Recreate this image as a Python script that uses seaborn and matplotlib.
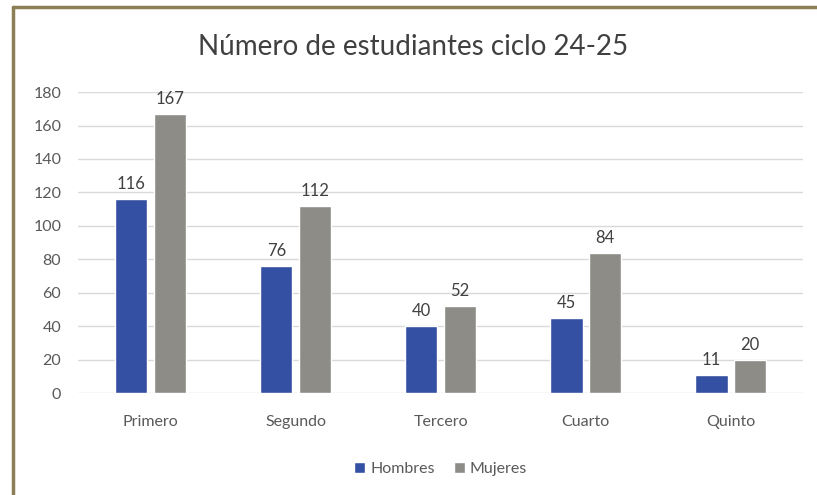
import pandas as pd
import matplotlib.pyplot as plt
import seaborn as sns
from matplotlib.lines import Line2D

# Data
ciclos = ['Primero', 'Segundo', 'Tercero', 'Cuarto', 'Quinto']
hombres = [116, 76, 40, 45, 11]
mujeres = [167, 112, 52, 84, 20]

df = pd.DataFrame({
    'Ciclo': ciclos * 2,
    'Sexo': ['Hombres'] * len(ciclos) + ['Mujeres'] * len(ciclos),
    'Estudiantes': hombres + mujeres,
})

sns.set_style('white')
plt.rcParams['font.family'] = ['Lato', 'DejaVu Sans']
text_color = '#595959'

fig = plt.figure(figsize=(8.17, 4.95), dpi=100)
ax = fig.add_axes([0.0955, 0.206, 0.8875, 0.608])

sns.barplot(data=df, x='Ciclo', y='Estudiantes', hue='Sexo',
            palette={'Hombres': '#3450A3', 'Mujeres': '#8E8C87'}, saturation=1,
            width=0.53, gap=0.16, ax=ax, zorder=3)

# value labels
for container in ax.containers:
    ax.bar_label(container, padding=5, fontsize=12, color='#404040')

ax.set_ylim(0, 180)
ax.set_yticks(range(0, 181, 20))
ax.set_xlim(-0.5, 4.5)
ax.grid(axis='y', color='#D9D9D9', linewidth=1, zorder=0)
ax.set_axisbelow(True)
sns.despine(ax=ax, left=True, bottom=True)
ax.tick_params(axis='both', length=0, labelsize=11.5, colors=text_color)
ax.tick_params(axis='x', pad=16)
ax.tick_params(axis='y', pad=12)
ax.set_xlabel('')
ax.set_ylabel('')

ax.legend(loc='upper center', bbox_to_anchor=(0.5, -0.18), ncol=2, frameon=False,
          fontsize=11.5, handlelength=0.7, handleheight=0.7, handletextpad=0.3,
          columnspacing=1.2, labelcolor=text_color)

fig.text(0.505, 0.905, 'Número de estudiantes ciclo 24-25', ha='center', va='center',
         fontsize=20, color='#404040')

# frame around the chart (only top and left edges are visible)
frame_kw = dict(transform=fig.transFigure, color='#8C7E55', linewidth=2.5)
fig.lines.append(Line2D([0.016, 1.0], [0.985, 0.985], **frame_kw))
fig.lines.append(Line2D([0.016, 0.016], [0.0, 0.985], **frame_kw))

fig.savefig('out.png', dpi=100)
